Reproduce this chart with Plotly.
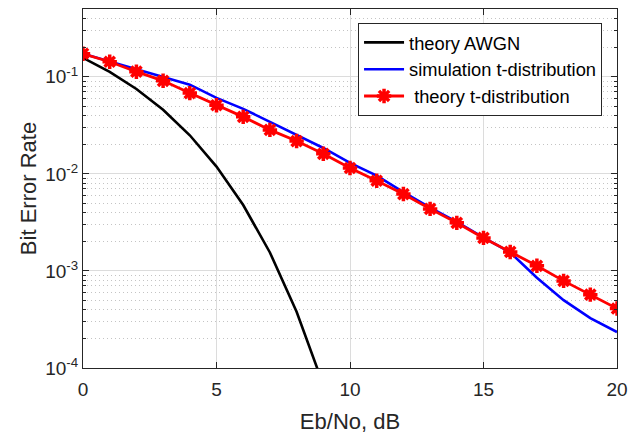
import plotly.graph_objects as go
import numpy as np

# ---- data ----
ebno_awgn = [0, 1, 2, 3, 4, 5, 6, 7, 8, 9]
ber_awgn = [0.157, 0.1126, 0.075, 0.0458, 0.025, 0.0119, 0.00478, 0.00155, 0.00038, 0.000067]

ebno_t = list(range(0, 21))
ber_sim_t = [0.173, 0.144, 0.118, 0.098, 0.083, 0.0607, 0.0468, 0.0344, 0.0252, 0.0185,
             0.0130, 0.0096, 0.0065, 0.0045, 0.0032, 0.0022, 0.00155, 0.00085, 0.00050,
             0.000327, 0.000235]
ber_theory_t = [0.173, 0.143, 0.113, 0.091, 0.068, 0.051, 0.0387, 0.0284, 0.0218, 0.0161,
                0.0115, 0.0085, 0.0062, 0.00436, 0.00313, 0.00219, 0.00157, 0.00113,
                0.00079, 0.00057, 0.00041]

y_major = [1e-4, 1e-3, 1e-2, 1e-1]
y_major_text = ["10<sup>-4</sup>", "10<sup>-3</sup>", "10<sup>-2</sup>", "10<sup>-1</sup>"]
y_minor = [m * d for d in [1e-4, 1e-3, 1e-2, 1e-1] for m in range(2, 10) if m * d <= 0.5]
x_ticks = [0, 5, 10, 15, 20]

FONT = "Liberation Sans, Arial, Helvetica, sans-serif"
AX = "#262626"

fig = go.Figure()
fig.add_trace(go.Scatter(x=ebno_awgn, y=ber_awgn, mode="lines", name="theory AWGN",
                         line=dict(color="black", width=2.6)))
fig.add_trace(go.Scatter(x=ebno_t, y=ber_sim_t, mode="lines", name="simulation t-distribution",
                         line=dict(color="#0000ff", width=2.6)))
fig.add_trace(go.Scatter(x=ebno_t, y=ber_theory_t, mode="lines+markers", name=" theory t-distribution",
                         line=dict(color="#ff0000", width=2.8),
                         marker=dict(symbol="asterisk-open", size=12, color="#ff0000",
                                     line=dict(color="#ff0000", width=3.5))))

fig.update_layout(
    width=630, height=435,
    margin=dict(l=83, r=13, t=9, b=67, autoexpand=False),
    paper_bgcolor="white", plot_bgcolor="white",
    font=dict(family=FONT, color=AX, size=19),
    showlegend=True,
    legend=dict(x=0.972, y=0.961, xanchor="right", yanchor="top",
                bgcolor="white", bordercolor=AX, borderwidth=1,
                font=dict(family=FONT, size=18.3, color="black"),
                tracegroupgap=0, itemwidth=40),
)

fig.update_xaxes(
    range=[0, 20], tickvals=x_ticks, ticks="inside", ticklen=6, tickcolor=AX,
    showline=True, linecolor=AX, linewidth=1, mirror="allticks", automargin=False,
    showgrid=True, gridcolor="#dcdcdc", gridwidth=1, zeroline=False,
    tickfont=dict(size=19, color=AX), ticklabelstandoff=4,
    title=dict(text="Eb/No, dB", font=dict(size=22, color=AX), standoff=14),
)
fig.update_yaxes(
    type="log", range=[-4, np.log10(0.5)], automargin=False,
    tickmode="array", tickvals=y_major, ticktext=y_major_text,
    ticks="inside", ticklen=6, tickcolor=AX,
    showline=True, linecolor=AX, linewidth=1, mirror="allticks",
    showgrid=True, gridcolor="#dcdcdc", gridwidth=1, zeroline=False,
    tickfont=dict(size=19, color=AX),
    minor=dict(tickmode="array", tickvals=y_minor, ticks="inside", ticklen=3,
               tickcolor=AX, showgrid=True, gridcolor="#c4c4c4", griddash="1px,3px", gridwidth=1),
    title=dict(text="Bit Error Rate", font=dict(size=22, color=AX), standoff=2),
)

fig.write_html("out.html")
